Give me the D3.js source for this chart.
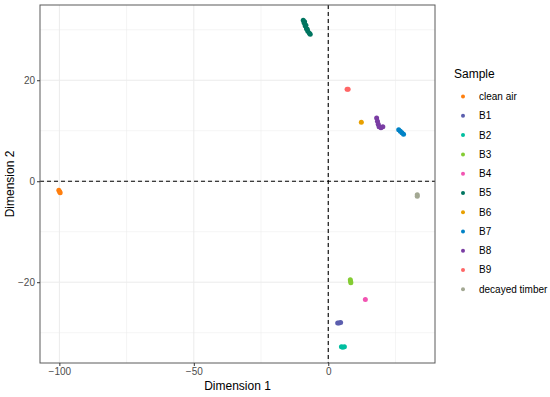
<!DOCTYPE html>
<html>
<head>
<meta charset="utf-8">
<script src="https://cdn.jsdelivr.net/npm/d3@7"></script>
<style>
  body { margin: 0; background: #fff; }
  text { font-family: "Liberation Sans", Arial, sans-serif; }
</style>
</head>
<body>
<div id="chart"></div>
<script>
// sample names and colours (legend order)
const samples = ["clean air", "B1", "B2", "B3", "B4", "B5", "B6", "B7", "B8", "B9", "decayed timber"];
const colors = ["#FF7F0E", "#5B5EAE", "#00BFA0", "#84CC33", "#F254B2", "#007560", "#E8A000", "#0082C6", "#7A3DA3", "#FF6666", "#A3A893"];

// points of each sample, [dim1, dim2]
const cleanAir = [[-100.2, -1.8], [-99.9, -2.1], [-99.7, -2.3]];
const b1 = [[3.5, -28.1], [4.0, -28.1], [4.6, -28.0]];
const b2 = [[4.9, -32.8], [5.4, -32.9], [6.0, -32.8]];
const b3 = [[8.2, -19.5], [8.3, -19.8], [8.4, -20.1]];
const b4 = [[13.8, -23.4]];
const b5 = [[-9.3, 31.9], [-9.0, 31.4], [-8.6, 30.8], [-8.1, 30.2], [-7.6, 29.7], [-7.0, 29.3], [-6.7, 29.1],
            [-8.8, 31.6], [-8.3, 30.9], [-7.8, 30.1]];
const b6 = [[12.3, 11.7]];
const b7 = [[26.2, 10.2], [26.8, 9.9], [27.4, 9.6], [28.0, 9.3]];
const b8 = [[18.0, 12.5], [18.3, 11.9], [18.6, 11.3], [18.9, 10.8], [19.6, 10.6], [20.3, 10.8]];
const b9 = [[7.0, 18.2], [7.4, 18.2]];
const decayedTimber = [[33.1, -2.7], [33.1, -3.0]];
const groups = [cleanAir, b1, b2, b3, b4, b5, b6, b7, b8, b9, decayedTimber];

const xTicks = [-100, -50, 0];
const yTicks = [-20, 0, 20];
const xDomain = [-107.2, 39.7];
const yDomain = [-36.0, 34.9];

const width = 550, height = 397;
const margin = {top: 5, right: 115, bottom: 34, left: 40};

const svg = d3.select("#chart").append("svg")
    .attr("width", width)
    .attr("height", height);

const x = d3.scaleLinear().domain(xDomain).range([margin.left, width - margin.right]);
const y = d3.scaleLinear().domain(yDomain).range([height - margin.bottom, margin.top]);

// grid lines (major + minor)
const xMinor = [-75, -25, 25];
const yMinor = [-30, -10, 10, 30];
const grid = svg.append("g");
grid.selectAll(".vx").data(xTicks.concat(xMinor)).enter().append("line")
    .attr("x1", d => x(d)).attr("x2", d => x(d))
    .attr("y1", margin.top).attr("y2", height - margin.bottom)
    .attr("stroke", "#ebebeb").attr("stroke-width", d => xTicks.includes(d) ? 1 : 0.5);
grid.selectAll(".hy").data(yTicks.concat(yMinor)).enter().append("line")
    .attr("y1", d => y(d)).attr("y2", d => y(d))
    .attr("x1", margin.left).attr("x2", width - margin.right)
    .attr("stroke", "#ebebeb").attr("stroke-width", d => yTicks.includes(d) ? 1 : 0.5);

// dashed zero lines
svg.append("line")
    .attr("x1", margin.left).attr("x2", width - margin.right)
    .attr("y1", y(0)).attr("y2", y(0))
    .attr("stroke", "#000").attr("stroke-width", 1.1).attr("stroke-dasharray", "4,3");
svg.append("line")
    .attr("x1", x(0)).attr("x2", x(0))
    .attr("y1", margin.top).attr("y2", height - margin.bottom)
    .attr("stroke", "#000").attr("stroke-width", 1.1).attr("stroke-dasharray", "4,3");

// points
groups.forEach((pts, i) => {
    svg.append("g").selectAll("circle").data(pts).enter().append("circle")
        .attr("cx", d => x(d[0]))
        .attr("cy", d => y(d[1]))
        .attr("r", 2.5)
        .attr("fill", colors[i]);
});

// panel border
svg.append("rect")
    .attr("x", margin.left).attr("y", margin.top)
    .attr("width", width - margin.right - margin.left)
    .attr("height", height - margin.bottom - margin.top)
    .attr("fill", "none").attr("stroke", "#5a5a5a").attr("stroke-width", 1);

// axes
const fmt = d => d < 0 ? "\u2212" + Math.abs(d) : String(d);
const xAxis = svg.append("g")
    .attr("transform", `translate(0,${height - margin.bottom})`)
    .call(d3.axisBottom(x).tickValues(xTicks).tickSize(3).tickPadding(2).tickFormat(fmt));
const yAxis = svg.append("g")
    .attr("transform", `translate(${margin.left},0)`)
    .call(d3.axisLeft(y).tickValues(yTicks).tickSize(3).tickPadding(2).tickFormat(fmt));
[xAxis, yAxis].forEach(a => {
    a.select(".domain").remove();
    a.selectAll(".tick line").attr("stroke", "#333");
    a.selectAll(".tick text").attr("fill", "#4d4d4d")
        .style("font-size", "10px").style("font-family", "Liberation Sans, Arial, sans-serif");
});

// axis titles
svg.append("text")
    .attr("x", (margin.left + width - margin.right) / 2)
    .attr("y", 390)
    .attr("text-anchor", "middle")
    .style("font-size", "12px")
    .text("Dimension 1");
svg.append("text")
    .attr("transform", `translate(14,${(margin.top + height - margin.bottom) / 2}) rotate(-90)`)
    .attr("text-anchor", "middle")
    .style("font-size", "12px")
    .text("Dimension 2");

// legend
const legend = svg.append("g");
legend.append("text")
    .attr("x", 454).attr("y", 78)
    .style("font-size", "12px")
    .text("Sample");
const rows = legend.selectAll(".row").data(samples).enter().append("g")
    .attr("transform", (d, i) => `translate(0,${96.6 + i * 19.26})`);
rows.append("circle")
    .attr("cx", 463).attr("cy", 0).attr("r", 2)
    .attr("fill", (d, i) => colors[i]);
rows.append("text")
    .attr("x", 479).attr("y", 3.5)
    .style("font-size", "10px")
    .text(d => d);
</script>
</body>
</html>
